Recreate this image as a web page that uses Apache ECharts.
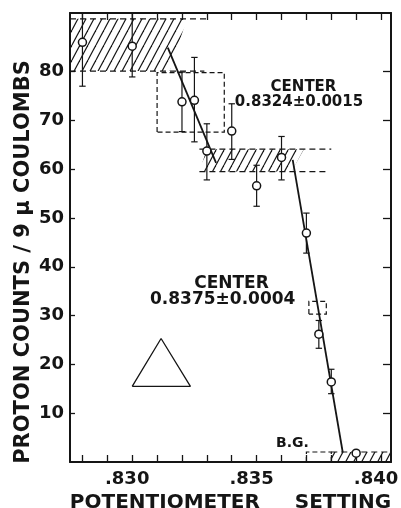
<!DOCTYPE html>
<html><head><meta charset="utf-8">
<script src="https://cdn.jsdelivr.net/npm/echarts@6/dist/echarts.min.js"></script>
<style>html,body{margin:0;padding:0;background:#fff}#c{width:401px;height:508px}</style>
</head><body><div id="c"></div>
<script>
// ---- data ----
const pointX   = [0.8280, 0.8300, 0.8320, 0.8325, 0.8330, 0.8340, 0.8350, 0.8360, 0.8370, 0.8375, 0.8380, 0.8390];
const pointY   = [86.0, 85.2, 73.8, 74.1, 63.7, 67.8, 56.6, 62.4, 46.9, 26.2, 16.4, 1.8];
const errLow   = [77.0, 78.9, 67.7, 65.6, 57.8, 62.0, 52.4, 57.8, 42.8, 23.3, 14.0, null];
const errHigh  = [95.0, 93.0, 79.9, 82.9, 69.3, 73.4, 60.8, 66.7, 51.0, 29.0, 19.0, null];

const fitLine1 = [[0.83143, 84.9], [0.83337, 61.3]];
const fitLine2 = [[0.83645, 61.9], [0.83846, 2.0]];

const trianglePts = [[0.8300, 15.5], [0.83116, 25.3], [0.83234, 15.5], [0.8300, 15.5]];

const hatchPolys = [
  [[0.8275, 80.1], [0.8275, 90.8], [0.8322, 90.8], [0.8315, 80.1]],
  [[0.8327, 59.5], [0.8330, 64.1], [0.8369, 64.1], [0.8364, 59.5]],
  [[0.8380, 0.0], [0.8380, 2.05], [0.8404, 2.05], [0.8404, 0.0]]
];
// [x0, x1, y0, y1]
const dashedRects = [
  [0.8310, 0.8337, 67.6, 79.8],
  [0.8371, 0.8378, 30.3, 32.9],
  [0.8370, 0.8380, 0.0, 2.05]
];
// [x0, x1, y]
const dashedLines = [
  [0.8275, 0.8329, 80.1],
  [0.8275, 0.8330, 90.8],
  [0.8327, 0.8380, 64.1],
  [0.8327, 0.8379, 59.5],
  [0.8380, 0.8404, 2.05]
];

const xTickValues  = [0.828, 0.829, 0.830, 0.831, 0.832, 0.833, 0.834, 0.835, 0.836, 0.837, 0.838, 0.839, 0.840];
const xLabelValues = [0.830, 0.835, 0.840];
const yTickValues  = [10, 20, 30, 40, 50, 60, 70, 80];
const yLabelValues = [10, 20, 30, 40, 50, 60, 70, 80];

const xTitle = 'POTENTIOMETER     SETTING';
const yTitle = 'PROTON COUNTS / 9 \u03bc COULOMBS';
const center1 = ['CENTER', '0.8324\u00b10.0015'];
const center2 = ['CENTER', '0.8375\u00b10.0004'];
const bgLabel = 'B.G.';

// ---- rendering ----
const INK = '#151515';
const FONT = '"DejaVu Sans", sans-serif';

function makeHatch() {
  const w = 8, h = 15;
  const c = document.createElement('canvas');
  c.width = w; c.height = h;
  const g = c.getContext('2d');
  g.strokeStyle = INK; g.lineWidth = 1.2;
  for (let k = -1; k <= 1; k++) {
    g.beginPath(); g.moveTo(k * w, h); g.lineTo(k * w + w, 0); g.stroke();
  }
  return c;
}
const hatchPattern = { image: makeHatch(), repeat: 'repeat' };

const chart = echarts.init(document.getElementById('c'), null, { renderer: 'canvas' });

const xMin = 0.8275, xMax = 0.8404, yMin = 0, yMax = 92;
const labelStyle = { fontSize: 18, fontWeight: 'bold', color: INK, fontFamily: FONT };

function axisX(pos, main) {
  return {
    type: 'value', position: pos, min: xMin, max: xMax,
    axisLine: { show: true, onZero: false, lineStyle: { color: INK, width: 2 } },
    axisTick: { show: true, inside: true, length: 7, customValues: xTickValues, lineStyle: { color: INK, width: 1.3 } },
    axisLabel: main ? Object.assign({ show: true, customValues: xLabelValues, margin: 8, padding: [0, 10, 0, 0],
      formatter: v => '.' + Math.round(v * 1000) }, labelStyle) : { show: false },
    splitLine: { show: false },
    name: main ? xTitle : '', nameLocation: 'middle', nameGap: 24,
    nameTextStyle: { fontSize: 20, fontWeight: 'bold', color: INK, fontFamily: FONT }
  };
}
function axisY(pos, main) {
  return {
    type: 'value', position: pos, min: yMin, max: yMax,
    axisLine: { show: true, onZero: false, lineStyle: { color: INK, width: 2 } },
    axisTick: { show: true, inside: true, length: main ? 5 : 8, customValues: yTickValues, lineStyle: { color: INK, width: 1.3 } },
    axisLabel: main ? Object.assign({ show: true, customValues: yLabelValues, margin: 6 }, labelStyle) : { show: false },
    splitLine: { show: false }
  };
}

const option = {
  animation: false,
  backgroundColor: '#fff',
  grid: { left: 70, right: 10, top: 13, bottom: 46, containLabel: false, outerBoundsMode: 'none' },
  xAxis: [axisX('bottom', true), axisX('top', false)],
  yAxis: [axisY('left', true), axisY('right', false)],
  graphic: [
    { type: 'text', x: 23.5, y: 262, rotation: Math.PI / 2,
      style: { text: yTitle, font: 'bold 21px ' + FONT, fill: INK, textAlign: 'center', textVerticalAlign: 'middle' } },
    { type: 'text', x: 303.5, y: 87, style: { text: center1[0], font: 'bold 15px ' + FONT, fill: INK, textAlign: 'center', textVerticalAlign: 'middle' } },
    { type: 'text', x: 299, y: 102.5, style: { text: center1[1], font: 'bold 15px ' + FONT, fill: INK, textAlign: 'center', textVerticalAlign: 'middle' } },
    { type: 'text', x: 231.5, y: 283.5, style: { text: center2[0], font: 'bold 17px ' + FONT, fill: INK, textAlign: 'center', textVerticalAlign: 'middle' } },
    { type: 'text', x: 222.7, y: 300, style: { text: center2[1], font: 'bold 17px ' + FONT, fill: INK, textAlign: 'center', textVerticalAlign: 'middle' } },
    { type: 'text', x: 292.5, y: 443, style: { text: bgLabel, font: 'bold 14px ' + FONT, fill: INK, textAlign: 'center', textVerticalAlign: 'middle' } }
  ],
  series: [
    { // hatched regions
      type: 'custom', clip: true, silent: true, z: 1,
      data: hatchPolys.map(p => [p[0][0], p[0][1]]),
      renderItem: (params, api) => ({
        type: 'polygon',
        shape: { points: hatchPolys[params.dataIndex].map(pt => api.coord(pt)) },
        style: { fill: hatchPattern, stroke: null }
      })
    },
    { // dashed rectangles
      type: 'custom', clip: true, silent: true, z: 2,
      data: dashedRects,
      renderItem: (params, api) => {
        const x0 = api.value(0), x1 = api.value(1), y0 = api.value(2), y1 = api.value(3);
        const pts = [[x0, y0], [x0, y1], [x1, y1], [x1, y0], [x0, y0]].map(p => api.coord(p));
        return { type: 'polyline', shape: { points: pts },
          style: { stroke: INK, lineWidth: 1.2, lineDash: [5, 3], fill: null } };
      }
    },
    { // dashed horizontal lines
      type: 'custom', clip: true, silent: true, z: 2,
      data: dashedLines,
      renderItem: (params, api) => {
        const a = api.coord([api.value(0), api.value(2)]);
        const b = api.coord([api.value(1), api.value(2)]);
        return { type: 'line', shape: { x1: a[0], y1: a[1], x2: b[0], y2: b[1] },
          style: { stroke: INK, lineWidth: 1.2, lineDash: [6, 4] } };
      }
    },
    { // error bars
      type: 'custom', clip: true, silent: true, z: 3,
      data: pointX.map((x, i) => [x, errLow[i], errHigh[i]]).filter(d => d[1] != null),
      renderItem: (params, api) => {
        const x = api.value(0);
        const lo = api.coord([x, api.value(1)]), hi = api.coord([x, api.value(2)]);
        const hw = 3.2, st = { stroke: INK, lineWidth: 1.2 };
        return { type: 'group', children: [
          { type: 'line', shape: { x1: lo[0], y1: lo[1], x2: hi[0], y2: hi[1] }, style: st },
          { type: 'line', shape: { x1: lo[0] - hw, y1: lo[1], x2: lo[0] + hw, y2: lo[1] }, style: st },
          { type: 'line', shape: { x1: hi[0] - hw, y1: hi[1], x2: hi[0] + hw, y2: hi[1] }, style: st }
        ] };
      }
    },
    { type: 'line', data: fitLine1, showSymbol: false, silent: true, z: 4, lineStyle: { color: INK, width: 1.8 } },
    { type: 'line', data: fitLine2, showSymbol: false, silent: true, z: 4, lineStyle: { color: INK, width: 1.8 } },
    { type: 'line', data: trianglePts, showSymbol: false, silent: true, z: 4, lineStyle: { color: INK, width: 1.3 } },
    { // data points
      type: 'scatter', z: 5, symbol: 'circle', symbolSize: 8,
      data: pointX.map((x, i) => [x, pointY[i]]),
      itemStyle: { color: '#fff', borderColor: INK, borderWidth: 1.5, opacity: 1 }
    }
  ]
};
chart.setOption(option);
</script>
</body></html>
